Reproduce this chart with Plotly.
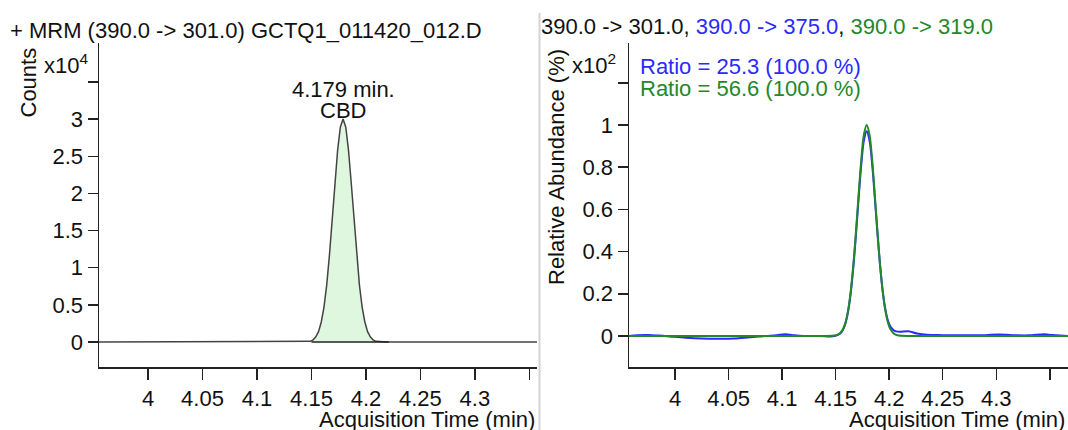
import plotly.graph_objects as go

W, H = 1068, 430
FONT = "Liberation Sans, Arial, sans-serif"

# ---------------- data ----------------
# Left: MRM 390.0 -> 301.0, counts in units of 1e4
left_time = [3.955, 4.000, 4.050, 4.100, 4.140, 4.1490, 4.1515, 4.1540, 4.1565,
             4.1590, 4.1615, 4.1640, 4.1665, 4.1690, 4.1715, 4.1740, 4.1765, 4.1790,
             4.1815, 4.1840, 4.1865, 4.1890, 4.1915, 4.1940, 4.1965, 4.1990, 4.2015,
             4.2040, 4.2065, 4.2090, 4.2200, 4.2500, 4.3000, 4.3570]
left_counts = [0, 0, 0, 0, 0, 0.01, 0.03, 0.07, 0.14,
               0.27, 0.47, 0.77, 1.17, 1.64, 2.14, 2.58, 2.89, 3.00,
               2.89, 2.58, 2.14, 1.64, 1.17, 0.77, 0.47, 0.27, 0.14,
               0.07, 0.03, 0.01, 0, 0, 0, 0]
integration_time = [4.150, 4.221]
integration_level = [0, 0]

# Right: relative abundance (x10^2 %)
green_time = [3.957, 4.050, 4.140, 4.1490, 4.1515, 4.1540, 4.1565, 4.1590, 4.1615,
              4.1640, 4.1665, 4.1690, 4.1715, 4.1740, 4.1765, 4.1790, 4.1815, 4.1840,
              4.1865, 4.1890, 4.1915, 4.1940, 4.1965, 4.1990, 4.2015, 4.2040, 4.2065,
              4.2090, 4.2200, 4.3000, 4.3670]
green_rel = [0, 0, 0, 0.002, 0.005, 0.013, 0.029, 0.061, 0.118,
             0.208, 0.336, 0.497, 0.675, 0.840, 0.957, 1.000, 0.957, 0.840,
             0.675, 0.497, 0.336, 0.208, 0.118, 0.061, 0.029, 0.013, 0.005,
             0.002, 0, 0, 0]

blue_time = [3.957, 3.965, 3.975, 3.985, 3.995, 4.010, 4.025, 4.040, 4.055, 4.070,
             4.085, 4.095, 4.103, 4.110, 4.120, 4.135, 4.145, 4.1490, 4.1515, 4.1540,
             4.1565, 4.1590, 4.1615, 4.1640, 4.1665, 4.1690, 4.1715, 4.1740, 4.1765,
             4.1790, 4.1815, 4.1840, 4.1865, 4.1890, 4.1915, 4.1940, 4.1965, 4.1990,
             4.2015, 4.2040, 4.2065, 4.2100, 4.2180, 4.2260, 4.2350, 4.2500, 4.2650,
             4.2800, 4.2900, 4.3020, 4.3150, 4.3300, 4.3450, 4.3520, 4.3670]
blue_rel = [0.0, 0.004, 0.005, 0.002, -0.002, -0.008, -0.012, -0.013, -0.012, -0.006,
            0.0, 0.004, 0.008, 0.004, 0.0, 0.0, -0.002, 0.0, 0.004, 0.011,
            0.026, 0.057, 0.112, 0.200, 0.325, 0.482, 0.655, 0.815, 0.930,
            0.970, 0.930, 0.820, 0.660, 0.490, 0.335, 0.212, 0.125, 0.070,
            0.042, 0.028, 0.022, 0.020, 0.022, 0.012, 0.006, 0.004, 0.003,
            0.004, 0.004, 0.007, 0.004, 0.003, 0.008, 0.005, 0.0]

x_tickvals = [4, 4.05, 4.1, 4.15, 4.2, 4.25, 4.3, 4.35]
x_ticktext = ["4", "4.05", "4.1", "4.15", "4.2", "4.25", "4.3", ""]
left_y_tickvals = [0, 0.5, 1, 1.5, 2, 2.5, 3, 3.5]
left_y_ticktext = ["0", "0.5", "1", "1.5", "2", "2.5", "3", ""]
right_y_tickvals = [0, 0.2, 0.4, 0.6, 0.8, 1.0, 1.2]
right_y_ticktext = ["0", "0.2", "0.4", "0.6", "0.8", "1", ""]

BLUE = "#2a2aff"
GREEN = "#23882a"

# ---------------- figure ----------------
fig = go.Figure()

fig.add_trace(go.Scatter(x=left_time, y=left_counts, mode="lines", fill="tozeroy",
                         fillcolor="#dff7df", line=dict(color="#444444", width=1.5),
                         xaxis="x", yaxis="y", showlegend=False, hoverinfo="skip"))
fig.add_trace(go.Scatter(x=integration_time, y=integration_level, mode="lines",
                         line=dict(color="#222222", width=1.5),
                         xaxis="x", yaxis="y", showlegend=False, hoverinfo="skip"))

fig.add_trace(go.Scatter(x=blue_time, y=blue_rel, mode="lines", line_shape="spline",
                         line=dict(color=BLUE, width=2), xaxis="x2", yaxis="y2",
                         showlegend=False, hoverinfo="skip"))
fig.add_trace(go.Scatter(x=green_time, y=green_rel, mode="lines", line_shape="spline",
                         line=dict(color=GREEN, width=2), xaxis="x2", yaxis="y2",
                         showlegend=False, hoverinfo="skip"))

def px(x):
    return x / W

def py(y):
    return 1 - y / H

ydom = [py(367), py(42.5)]

axis_common = dict(showgrid=False, zeroline=False, showline=True, linecolor="#222222",
                   linewidth=1.5, ticks="outside", tickcolor="#222222", tickwidth=1.5,
                   tickfont=dict(family=FONT, size=22, color="#111111"), fixedrange=True)

fig.update_layout(
    width=W, height=H, autosize=False,
    margin=dict(l=0, r=0, t=0, b=0),
    paper_bgcolor="white", plot_bgcolor="white",
    font=dict(family=FONT, size=22, color="#111111"),
    xaxis=dict(domain=[px(99), px(537)], range=[3.955, 4.357], anchor="y",
               tickvals=x_tickvals, ticktext=x_ticktext, ticklen=11, **axis_common),
    yaxis=dict(domain=ydom, range=[-0.336, 4.031], anchor="x",
               tickvals=left_y_tickvals, ticktext=left_y_ticktext, ticklen=10, **axis_common),
    xaxis2=dict(domain=[px(629), 1.0], range=[3.957, 4.367], anchor="y2",
                tickvals=x_tickvals, ticktext=x_ticktext, ticklen=11, **axis_common),
    yaxis2=dict(domain=ydom, range=[-0.147, 1.391], anchor="x2",
                tickvals=right_y_tickvals, ticktext=right_y_ticktext, ticklen=10, **axis_common),
)

def ann(text, x, y, xanchor="left", color="#111111", angle=0, size=22, xref="paper"):
    fig.add_annotation(text=text, x=x, y=py(y), xref=xref, yref="paper",
                       xanchor=xanchor, yanchor="middle", showarrow=False,
                       textangle=angle, font=dict(family=FONT, size=size, color=color))

ann("+ MRM (390.0 -> 301.0) GCTQ1_011420_012.D", px(8), 31)
ann("Counts", px(27.5), 83, xanchor="center", angle=-90)
ann("x10<sup>4</sup>", px(42), 64)
ann("4.179 min.", 4.179, 89, xanchor="center", xref="x")
ann("CBD", 4.179, 110, xanchor="center", xref="x")
ann("Acquisition Time (min)", px(537), 419, xanchor="right")

ann("390.0 -> 301.0, <span style='color:%s'>390.0 -> 375.0</span>, "
    "<span style='color:%s'>390.0 -> 319.0</span>" % (BLUE, GREEN), px(539), 26)
ann("Relative Abundance (%)", px(556), 167, xanchor="center", angle=-90)
ann("x10<sup>2</sup>", px(570), 64)
ann("Ratio = 25.3 (100.0 %)", px(638), 66, color=BLUE)
ann("Ratio = 56.6 (100.0 %)", px(638), 88, color=GREEN)
ann("Acquisition Time (min)", px(1067), 419, xanchor="right")

fig.add_shape(type="line", xref="paper", yref="paper", x0=px(539.5), x1=px(539.5),
              y0=0, y1=py(13), line=dict(color="#d4d4d4", width=2))

fig.write_html("out.html", config={"displayModeBar": False, "staticPlot": True},
               post_script="document.body.style.margin='0';document.body.style.overflow='hidden';")
